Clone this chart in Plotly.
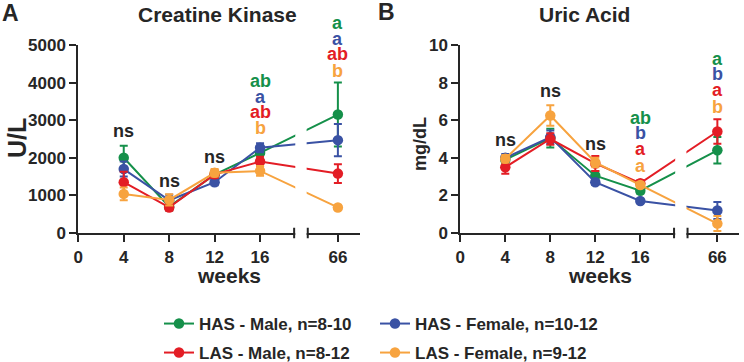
import plotly.graph_objects as go

W, H = 744, 362

# ---------------- data ----------------
weeks = [4, 8, 12, 16, 66]
tick_weeks = [0, 4, 8, 12, 16, 66]
series_names = ["HAS - Male, n=8-10", "HAS - Female, n=10-12",
                "LAS - Male, n=8-12", "LAS - Female, n=9-12"]
colors = ["#15904a", "#3a52a4", "#e31d25", "#f7a33f"]

# Creatine Kinase (U/L)
ck_has_m = [2000, 700, 1550, 2130, 3150]
ck_has_m_err = [320, 100, 100, 150, 850]
ck_has_f = [1700, 870, 1350, 2270, 2470]
ck_has_f_err = [200, 150, 80, 120, 430]
ck_las_m = [1350, 680, 1560, 1900, 1580]
ck_las_m_err = [280, 80, 100, 130, 250]
ck_las_f = [1040, 880, 1600, 1650, 680]
ck_las_f_err = [170, 150, 100, 130, 60]

# Uric Acid (mg/dL)
ua_has_m = [3.9, 5.05, 3.05, 2.25, 4.4]
ua_has_m_err = [0.2, 0.5, 0.25, 0.15, 0.7]
ua_has_f = [4.0, 5.1, 2.7, 1.7, 1.2]
ua_has_f_err = [0.2, 0.35, 0.15, 0.1, 0.45]
ua_las_m = [3.5, 5.0, 3.7, 2.65, 5.4]
ua_las_m_err = [0.35, 0.3, 0.4, 0.15, 0.65]
ua_las_f = [3.95, 6.25, 3.75, 2.55, 0.5]
ua_las_f_err = [0.2, 0.55, 0.25, 0.15, 0.4]

# significance letters: (week, label, series index or None, value position)
ck_letters = [(4, "ns", None, 2700), (8, "ns", None, 1390), (12, "ns", None, 2020),
              (16, "ab", 0, 4040), (16, "a", 1, 3620), (16, "ab", 2, 3220), (16, "b", 3, 2790),
              (66, "a", 0, 5585), (66, "a", 1, 5160), (66, "ab", 2, 4760), (66, "b", 3, 4310)]
ua_letters = [(4, "ns", None, 4.95), (8, "ns", None, 7.55), (12, "ns", None, 4.73),
              (16, "ab", 0, 6.12), (16, "b", 1, 5.32), (16, "a", 2, 4.47), (16, "a", 3, 3.56),
              (66, "a", 0, 9.26), (66, "b", 1, 8.46), (66, "a", 2, 7.61), (66, "b", 3, 6.70)]

CK_MAX, UA_MAX = 5000, 10

# ---------------- broken-axis scale ----------------
LEFT_MAX = 19.0       # end of left segment (weeks)
RIGHT_OFFSET = 43.15  # weeks beyond the break are shifted by this
RIGHT_START = 20.2    # start of right segment (scaled units)
X_END = 24.8

def xpos(w):
    return w if w <= LEFT_MAX else w - RIGHT_OFFSET

xs = [xpos(w) for w in weeks]
tickpos = [xpos(w) for w in tick_weeks]

FONT = "Liberation Sans"
TXT = "#262626"

fig = go.Figure()

ck = [(ck_has_m, ck_has_m_err), (ck_has_f, ck_has_f_err),
      (ck_las_m, ck_las_m_err), (ck_las_f, ck_las_f_err)]
ua = [(ua_has_m, ua_has_m_err), (ua_has_f, ua_has_f_err),
      (ua_las_m, ua_las_m_err), (ua_las_f, ua_las_f_err)]

for i in range(4):
    for panel, (vals, errs) in ((1, ck[i]), (2, ua[i])):
        fig.add_trace(go.Scatter(
            x=xs, y=vals, mode="lines+markers", name=series_names[i],
            line=dict(color=colors[i], width=2),
            marker=dict(color=colors[i], size=10.5),
            error_y=dict(type="data", array=errs, color=colors[i], thickness=2, width=4),
            xaxis="x" if panel == 1 else "x2",
            yaxis="y" if panel == 1 else "y2",
            showlegend=(panel == 1),
            legend="legend" if i in (0, 1) else "legend2",
            legendwidth=171 if i in (0, 2) else 210,
        ))

ytop = 1 - 45 / H
ybot = 1 - 233 / H
axis_common = dict(showline=True, linewidth=2, linecolor=TXT, ticks="outside",
                   ticklen=7, tickwidth=2, tickcolor=TXT, showgrid=False, zeroline=False,
                   tickfont=dict(family=FONT, size=17, color=TXT, weight="bold"))

fig.update_layout(
    width=W, height=H, margin=dict(l=0, r=0, t=0, b=0, autoexpand=False),
    paper_bgcolor="white", plot_bgcolor="white",
    xaxis=dict(domain=[78.3 / W, (78.3 + X_END * 11.36) / W], range=[0, X_END],
               tickvals=tickpos, ticktext=[str(t) for t in tick_weeks], anchor="y",
               ticklabelstandoff=1, **axis_common),
    yaxis=dict(domain=[ybot, ytop], range=[0, CK_MAX], tickvals=[0, 1000, 2000, 3000, 4000, 5000],
               anchor="x", **axis_common),
    xaxis2=dict(domain=[460.3 / W, (460.3 + X_END * 11.25) / W], range=[0, X_END],
                tickvals=tickpos, ticktext=[str(t) for t in tick_weeks], anchor="y2",
                ticklabelstandoff=1, **axis_common),
    yaxis2=dict(domain=[ybot, ytop], range=[0, UA_MAX], tickvals=[0, 2, 4, 6, 8, 10],
                anchor="x2", **axis_common),
    legend=dict(orientation="h", x=159 / W, xanchor="left", y=1 - 324 / H, yanchor="middle",
                bgcolor="rgba(0,0,0,0)",
                font=dict(family=FONT, size=17, color=TXT, weight="bold")),
    legend2=dict(orientation="h", x=159 / W, xanchor="left", y=1 - 353 / H, yanchor="middle",
                 bgcolor="rgba(0,0,0,0)",
                 font=dict(family=FONT, size=17, color=TXT, weight="bold")),
)

shapes = []
for xr, yr in (("x", "y domain"), ("x2", "y2 domain")):
    # white cover over the break
    shapes.append(dict(type="rect", xref=xr, yref=yr, x0=LEFT_MAX + 0.1, x1=RIGHT_START - 0.1,
                       y0=-0.02, y1=1.0, fillcolor="white", line=dict(width=0), layer="above"))
    for xb in (LEFT_MAX, RIGHT_START):
        shapes.append(dict(type="line", xref=xr, yref=yr, x0=xb, x1=xb, y0=-0.028, y1=0.028,
                           line=dict(color=TXT, width=2), layer="above"))
fig.update_layout(shapes=shapes)

ann = []
def paper_text(text, px, py, size, angle=0, color=TXT):
    ann.append(dict(text=text, x=px / W, y=1 - py / H, xref="paper", yref="paper",
                    showarrow=False, xanchor="center", yanchor="middle", textangle=angle,
                    font=dict(family=FONT, size=size, color=color, weight="bold")))

paper_text("A", 10, 13, 23)
paper_text("B", 386, 12, 23)
paper_text("Creatine Kinase", 217.5, 15, 21)
paper_text("Uric Acid", 584.5, 15, 21)
paper_text("U/L", 17, 138, 25, angle=-90)
paper_text("mg/dL", 420, 144, 18, angle=-90)
paper_text("weeks", 228.5, 275, 21)
paper_text("weeks", 600, 275, 21)

for letters, xr, yr, ymax in ((ck_letters, "x", "y domain", CK_MAX),
                              (ua_letters, "x2", "y2 domain", UA_MAX)):
    for wk, label, si, yv in letters:
        ann.append(dict(text=label, x=xpos(wk), y=yv / ymax, xref=xr, yref=yr, showarrow=False,
                        xanchor="center", yanchor="middle",
                        font=dict(family=FONT, size=18, weight="bold",
                                  color=TXT if si is None else colors[si])))
fig.update_layout(annotations=ann)

fig.write_html("out.html")
